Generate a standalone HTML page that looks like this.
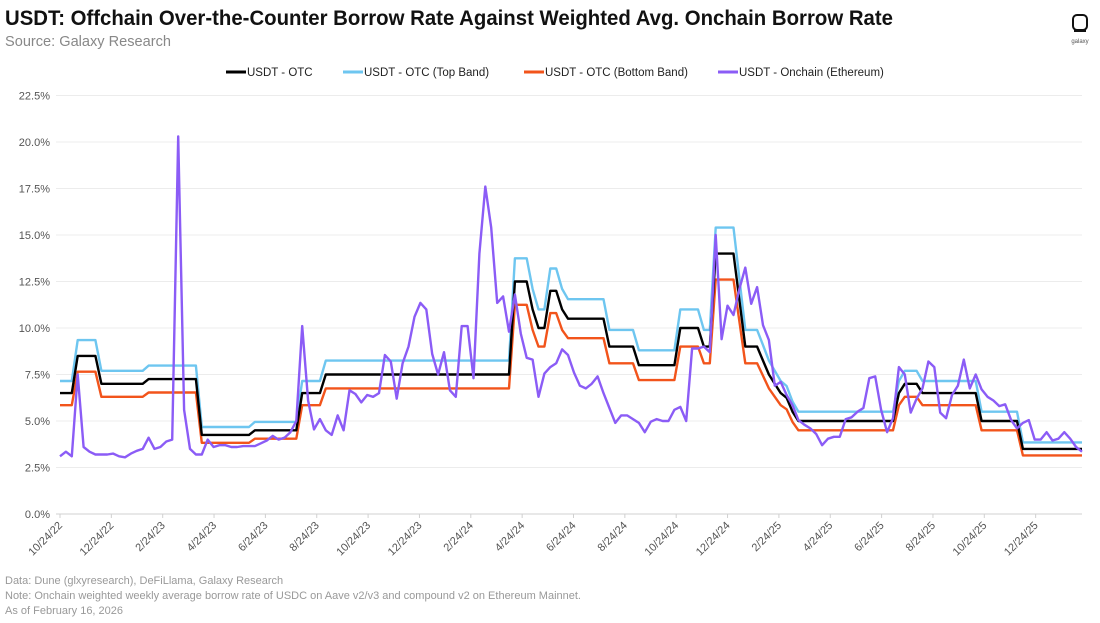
<!DOCTYPE html>
<html><head><meta charset="utf-8">
<style>
html,body{margin:0;padding:0;background:#fff;}
svg{display:block;font-family:"Liberation Sans",sans-serif;}
</style></head>
<body>
<svg id="chart" width="1100" height="623" viewBox="0 0 1100 623">
  <text x="5" y="25" font-size="21" font-weight="bold" fill="#111" textLength="888" lengthAdjust="spacingAndGlyphs">USDT: Offchain Over-the-Counter Borrow Rate Against Weighted Avg. Onchain Borrow Rate</text>
  <text x="5" y="46" font-size="15" fill="#888" textLength="166" lengthAdjust="spacingAndGlyphs">Source: Galaxy Research</text>
  <g>
    <rect x="1073" y="15" width="14" height="15" rx="4" fill="none" stroke="#111" stroke-width="2"/>
    <rect x="1074" y="29" width="12" height="3" fill="#111"/>
    <text x="1080" y="43" font-size="6" fill="#555" text-anchor="middle">galaxy</text>
  </g>
  <g id="legend"></g>
  <g id="grid"></g>
  <g id="yaxis"></g>
  <g id="xaxis"></g>
  <g id="series"></g>
  <text x="5" y="584" font-size="11" fill="#999">Data: Dune (glxyresearch), DeFiLlama, Galaxy Research</text>
  <text x="5" y="599" font-size="11" fill="#999">Note: Onchain weighted weekly average borrow rate of USDC on Aave v2/v3 and compound v2 on Ethereum Mainnet.</text>
  <text x="5" y="614" font-size="11" fill="#999">As of February 16, 2026</text>
</svg>
<script>
const yTicks = [0, 2.5, 5, 7.5, 10, 12.5, 15, 17.5, 20, 22.5];
const xTickLabels = ["10/24/22","12/24/22","2/24/23","4/24/23","6/24/23","8/24/23","10/24/23","12/24/23","2/24/24","4/24/24","6/24/24","8/24/24","10/24/24","12/24/24","2/24/25","4/24/25","6/24/25","8/24/25","10/24/25","12/24/25"];
const seriesNames = ["USDT - OTC","USDT - OTC (Top Band)","USDT - OTC (Bottom Band)","USDT - Onchain (Ethereum)"];
const otc = [6.5,6.5,6.5,8.5,8.5,8.5,8.5,7,7,7,7,7,7,7,7,7.25,7.25,7.25,7.25,7.25,7.25,7.25,7.25,7.25,4.25,4.25,4.25,4.25,4.25,4.25,4.25,4.25,4.25,4.5,4.5,4.5,4.5,4.5,4.5,4.5,4.5,6.5,6.5,6.5,6.5,7.5,7.5,7.5,7.5,7.5,7.5,7.5,7.5,7.5,7.5,7.5,7.5,7.5,7.5,7.5,7.5,7.5,7.5,7.5,7.5,7.5,7.5,7.5,7.5,7.5,7.5,7.5,7.5,7.5,7.5,7.5,7.5,12.5,12.5,12.5,11,10,10,12,12,11,10.5,10.5,10.5,10.5,10.5,10.5,10.5,9,9,9,9,9,8,8,8,8,8,8,8,10,10,10,10,9,9,14,14,14,14,11.5,9,9,9,8.25,7.5,7,6.5,6.25,5.5,5,5,5,5,5,5,5,5,5,5,5,5,5,5,5,5,5,6.5,7,7,7,6.5,6.5,6.5,6.5,6.5,6.5,6.5,6.5,6.5,6.5,5,5,5,5,5,5,5,3.5,3.5,3.5,3.5,3.5,3.5,3.5,3.5,3.5,3.5,3.5];
const otcTop = [7.15,7.15,7.15,9.35,9.35,9.35,9.35,7.7,7.7,7.7,7.7,7.7,7.7,7.7,7.7,7.98,7.98,7.98,7.98,7.98,7.98,7.98,7.98,7.98,4.68,4.68,4.68,4.68,4.68,4.68,4.68,4.68,4.68,4.95,4.95,4.95,4.95,4.95,4.95,4.95,4.95,7.15,7.15,7.15,7.15,8.25,8.25,8.25,8.25,8.25,8.25,8.25,8.25,8.25,8.25,8.25,8.25,8.25,8.25,8.25,8.25,8.25,8.25,8.25,8.25,8.25,8.25,8.25,8.25,8.25,8.25,8.25,8.25,8.25,8.25,8.25,8.25,13.75,13.75,13.75,12.1,11,11,13.2,13.2,12.1,11.55,11.55,11.55,11.55,11.55,11.55,11.55,9.9,9.9,9.9,9.9,9.9,8.8,8.8,8.8,8.8,8.8,8.8,8.8,11,11,11,11,9.9,9.9,15.4,15.4,15.4,15.4,12.65,9.9,9.9,9.9,9.08,8.25,7.7,7.15,6.88,6.05,5.5,5.5,5.5,5.5,5.5,5.5,5.5,5.5,5.5,5.5,5.5,5.5,5.5,5.5,5.5,5.5,5.5,7.15,7.7,7.7,7.7,7.15,7.15,7.15,7.15,7.15,7.15,7.15,7.15,7.15,7.15,5.5,5.5,5.5,5.5,5.5,5.5,5.5,3.85,3.85,3.85,3.85,3.85,3.85,3.85,3.85,3.85,3.85,3.85];
const otcBottom = [5.85,5.85,5.85,7.65,7.65,7.65,7.65,6.3,6.3,6.3,6.3,6.3,6.3,6.3,6.3,6.53,6.53,6.53,6.53,6.53,6.53,6.53,6.53,6.53,3.83,3.83,3.83,3.83,3.83,3.83,3.83,3.83,3.83,4.05,4.05,4.05,4.05,4.05,4.05,4.05,4.05,5.85,5.85,5.85,5.85,6.75,6.75,6.75,6.75,6.75,6.75,6.75,6.75,6.75,6.75,6.75,6.75,6.75,6.75,6.75,6.75,6.75,6.75,6.75,6.75,6.75,6.75,6.75,6.75,6.75,6.75,6.75,6.75,6.75,6.75,6.75,6.75,11.25,11.25,11.25,9.9,9,9,10.8,10.8,9.9,9.45,9.45,9.45,9.45,9.45,9.45,9.45,8.1,8.1,8.1,8.1,8.1,7.2,7.2,7.2,7.2,7.2,7.2,7.2,9,9,9,9,8.1,8.1,12.6,12.6,12.6,12.6,10.35,8.1,8.1,8.1,7.43,6.75,6.3,5.85,5.63,4.95,4.5,4.5,4.5,4.5,4.5,4.5,4.5,4.5,4.5,4.5,4.5,4.5,4.5,4.5,4.5,4.5,4.5,5.85,6.3,6.3,6.3,5.85,5.85,5.85,5.85,5.85,5.85,5.85,5.85,5.85,5.85,4.5,4.5,4.5,4.5,4.5,4.5,4.5,3.15,3.15,3.15,3.15,3.15,3.15,3.15,3.15,3.15,3.15,3.15];
const onchain = [3.1,3.35,3.1,7.5,3.6,3.35,3.2,3.2,3.2,3.25,3.1,3.05,3.25,3.4,3.5,4.1,3.5,3.6,3.9,4.0,20.3,5.6,3.5,3.2,3.2,4.0,3.6,3.7,3.7,3.6,3.6,3.65,3.65,3.65,3.8,3.95,4.2,4.0,4.1,4.4,5.0,10.1,6.1,4.55,5.1,4.5,4.25,5.3,4.5,6.65,6.45,6.0,6.4,6.3,6.5,8.55,8.2,6.2,8.1,9.0,10.6,11.35,11.0,8.6,7.5,8.7,6.65,6.3,10.1,10.1,7.3,14.0,17.6,15.4,11.35,11.7,9.8,11.8,9.7,8.4,8.3,6.3,7.55,7.9,8.1,8.85,8.55,7.6,6.9,6.75,7.0,7.4,6.5,5.7,4.9,5.3,5.3,5.1,4.9,4.4,4.96,5.1,5.0,5.0,5.6,5.76,5.0,8.9,8.9,9.0,8.7,15.0,9.4,11.2,10.7,12.1,13.25,11.3,12.2,10.15,9.35,6.9,7.1,6.4,5.85,5.05,4.8,4.6,4.3,3.7,4.05,4.15,4.15,5.1,5.2,5.5,5.7,7.3,7.4,5.6,4.4,5.15,7.9,7.5,5.45,6.2,6.75,8.2,7.9,5.45,5.15,6.4,6.9,8.3,6.75,7.5,6.7,6.3,6.1,5.8,5.9,5.05,4.6,4.9,5.05,4.0,4.0,4.4,3.95,4.05,4.4,4.05,3.6,3.35];

const NS = "http://www.w3.org/2000/svg";
const X0 = 60, X1 = 1082, Y0 = 514, YTOP = 95.5;
const nPts = onchain.length;
function xScale(i){ return X0 + (X1 - X0) * i / (nPts - 1); }
function yScale(v){ return Y0 - (Y0 - YTOP) * v / 22.5; }
const tickStep = 51.35;
function xTick(k){ return X0 + k * tickStep; }
function mk(tag, attrs){ const e = document.createElementNS(NS, tag); for (const k in attrs) e.setAttribute(k, attrs[k]); return e; }

const grid = document.getElementById('grid');
const yaxis = document.getElementById('yaxis');
yTicks.forEach(function(t){
  const y = yScale(t);
  const ln = mk('line', {x1: X0 - 4, x2: X1, y1: y, y2: y, stroke: t === 0 ? '#d0d0d0' : '#ececec', 'stroke-width': 1});
  
  
  grid.appendChild(ln);
  const tx = mk('text', {x: 50, y: y + 4, 'font-size': 11, fill: '#555', 'text-anchor': 'end'});
  tx.textContent = t.toFixed(1) + '%';
  
  
  yaxis.appendChild(tx);
});

const xaxis = document.getElementById('xaxis');
xTickLabels.forEach(function(lab, k){
  const x = xTick(k);
  const tk = mk('line', {x1: x, x2: x, y1: Y0, y2: Y0 + 4, stroke: '#d0d0d0'});
  
  
  xaxis.appendChild(tk);
  const tx = mk('text', {x: x + 3, y: Y0 + 12, 'font-size': 11, fill: '#555', 'text-anchor': 'end', transform: 'rotate(-45 ' + (x + 3) + ' ' + (Y0 + 12) + ')'});
  tx.textContent = lab;
  
  
  xaxis.appendChild(tx);
});

const seriesData = [otc, otcTop, otcBottom, onchain];
const colors = ['#000000', '#6ec6f0', '#f2541b', '#8b5cf6'];
const seriesKeys = ['otc-line', 'otc-top-band-line', 'otc-bottom-band-line', 'onchain-line'];
const order = [1, 2, 0, 3];
const sg = document.getElementById('series');
order.forEach(function(s){
  const d = seriesData[s].map(function(v, i){ return (i ? 'L' : 'M') + xScale(i).toFixed(1) + ' ' + yScale(v).toFixed(1); }).join(' ');
  const p = mk('path', {d: d, fill: 'none', stroke: colors[s], 'stroke-width': 2.4, 'stroke-linejoin': 'round'});
  
  
  sg.appendChild(p);
});

const legend = document.getElementById('legend');
const legX = [226, 343, 524, 718];
const legW = [90, 155, 170, 175];
seriesNames.forEach(function(name, s){
  const g = mk('g', {});
  
  
  g.appendChild(mk('line', {x1: legX[s], x2: legX[s] + 20, y1: 72, y2: 72, stroke: colors[s], 'stroke-width': 3}));
  const t = mk('text', {x: legX[s] + 21, y: 76, 'font-size': 11.5, fill: '#222'});
  t.textContent = name;
  g.appendChild(t);
  legend.appendChild(g);
});
</script>
</body></html>
